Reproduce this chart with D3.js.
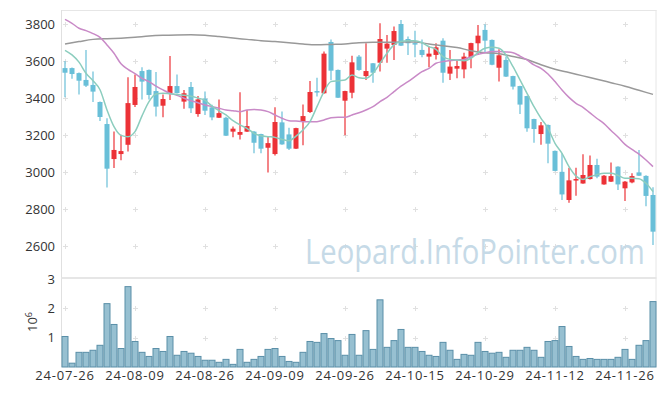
<!DOCTYPE html>
<html><head><meta charset="utf-8">
<script src="https://cdn.jsdelivr.net/npm/d3@7"></script>
<style>body{margin:0;background:#fff}svg{display:block}text{font-family:"Open Sans",sans-serif}</style>
</head><body><svg id="c" width="665" height="396"></svg>
<script>
const dates=["24-07-26","24-07-29","24-07-30","24-07-31","24-08-01","24-08-02","24-08-05","24-08-06","24-08-07","24-08-08",
"24-08-09","24-08-12","24-08-13","24-08-14","24-08-16","24-08-19","24-08-20","24-08-21","24-08-22","24-08-23",
"24-08-26","24-08-27","24-08-28","24-08-29","24-08-30","24-09-02","24-09-03","24-09-04","24-09-05","24-09-06",
"24-09-09","24-09-10","24-09-11","24-09-12","24-09-13","24-09-19","24-09-20","24-09-23","24-09-24","24-09-25",
"24-09-26","24-09-27","24-09-30","24-10-02","24-10-04","24-10-07","24-10-08","24-10-10","24-10-11","24-10-14",
"24-10-15","24-10-16","24-10-17","24-10-18","24-10-21","24-10-22","24-10-23","24-10-24","24-10-25","24-10-28",
"24-10-29","24-10-30","24-10-31","24-11-01","24-11-04","24-11-05","24-11-06","24-11-07","24-11-08","24-11-11",
"24-11-12","24-11-13","24-11-14","24-11-15","24-11-18","24-11-19","24-11-20","24-11-21","24-11-22","24-11-25",
"24-11-26","24-11-27","24-11-28","24-11-29","24-12-02"];
const open=[3562,3562,3535,3498,3471,3379,3260,3071,3098,3148,
3363,3546,3552,3438,3359,3427,3465,3381,3460,3314,
3397,3350,3294,3294,3219,3202,3219,3219,3206,3132,
3098,3269,3204,3127,3274,3325,3438,3426,3703,3552,
3386,3429,3624,3519,3588,3591,3667,3687,3800,3719,
3697,3660,3624,3633,3710,3532,3559,3555,3622,3696,
3768,3714,3564,3606,3519,3465,3411,3287,3206,3255,
3115,3002,2850,2955,2939,2963,3039,2934,2949,3030,
2913,2945,2999,2980,2877];
const high=[3600,3565,3538,3660,3544,3381,3291,3220,3202,3512,
3528,3566,3555,3541,3420,3627,3528,3444,3487,3411,
3435,3364,3393,3300,3247,3431,3336,3222,3208,3195,
3350,3327,3240,3240,3366,3492,3510,3652,3717,3555,
3440,3629,3633,3696,3590,3804,3741,3786,3822,3732,
3764,3717,3678,3696,3723,3660,3606,3645,3699,3795,
3798,3716,3664,3624,3521,3467,3413,3289,3271,3257,
3117,3102,3024,3024,3097,3090,3072,2985,3053,3032,
2952,2994,3120,2983,2919];
const low=[3405,3505,3420,3460,3379,3276,2918,3022,3064,3112,
3352,3393,3393,3301,3296,3390,3425,3343,3319,3300,
3309,3280,3292,3195,3188,3177,3217,3102,3102,2999,
3090,3148,3120,3125,3145,3320,3408,3424,3496,3400,
3199,3399,3548,3498,3483,3543,3591,3606,3681,3633,
3620,3620,3566,3609,3483,3498,3507,3507,3561,3633,
3645,3578,3490,3514,3447,3314,3219,3159,3148,3048,
3005,2850,2835,2873,2937,2961,2967,2932,2947,2904,
2844,2940,2979,2816,2607];
const close=[3537,3530,3494,3467,3435,3298,3019,3120,3114,3373,
3460,3489,3417,3354,3395,3465,3427,3426,3345,3393,
3332,3296,3319,3197,3235,3217,3249,3159,3127,3157,
3271,3150,3127,3238,3303,3433,3431,3640,3548,3402,
3438,3593,3552,3546,3537,3719,3694,3762,3683,3696,
3694,3633,3640,3674,3537,3570,3573,3624,3697,3737,
3710,3580,3631,3516,3462,3365,3237,3233,3253,3154,
3007,2880,2956,2963,2985,3039,2976,2981,2979,2934,
2949,2979,2981,2872,2679];
// volume in units of 10^6
const volume=[1.04,0.13,0.50,0.50,0.57,0.74,2.16,1.45,0.63,2.74,
0.87,0.50,0.36,0.63,0.53,1.04,0.40,0.53,0.47,0.36,
0.23,0.23,0.16,0.26,0.09,0.60,0.16,0.26,0.36,0.60,
0.63,0.36,0.19,0.16,0.50,0.87,0.84,1.14,0.97,0.90,
0.40,1.11,0.40,1.24,0.60,2.29,0.67,0.90,1.28,0.67,
0.67,0.53,0.40,0.36,0.84,0.57,0.26,0.43,0.40,0.84,
0.53,0.47,0.50,0.33,0.57,0.57,0.67,0.57,0.33,0.87,
0.90,1.38,0.70,0.36,0.26,0.29,0.26,0.26,0.26,0.33,
0.60,0.26,0.74,0.90,2.23];
const maShort=[3658,3633,3594,3534,3494,3445,3336,3246,3199,3192,
3219,3304,3381,3422,3426,3423,3420,3415,3410,3400,
3388,3357,3332,3309,3278,3255,3237,3210,3197,3192,
3188,3177,3170,3195,3228,3273,3354,3435,3489,3494,
3498,3525,3510,3507,3534,3588,3642,3687,3705,3710,
3710,3699,3678,3663,3624,3609,3606,3602,3615,3645,
3669,3674,3669,3633,3570,3498,3426,3354,3291,3237,
3156,3102,3030,2979,2961,2976,2987,2994,2994,2983,
2967,2967,2965,2940,2895];
const maMid=[3825,3804,3777,3764,3748,3728,3687,3642,3585,3555,
3532,3507,3489,3465,3444,3426,3415,3399,3386,3375,
3363,3354,3345,3336,3332,3327,3336,3339,3336,3327,
3309,3291,3278,3276,3273,3273,3273,3282,3294,3296,
3296,3309,3321,3336,3354,3381,3404,3435,3465,3489,
3516,3543,3561,3588,3597,3602,3606,3609,3624,3636,
3645,3651,3651,3649,3645,3627,3606,3579,3561,3530,
3489,3444,3404,3372,3350,3320,3290,3262,3225,3190,
3150,3123,3098,3066,3030];
const maLongIdx=[0,2,4,6,8,10,12,14,16,18,20,22,24,26,28,30,32,34,36,38,40,42,44,46,48,50,52,54,56,58,60,62,64,66,68,70,72,74,76,78,80,82,84];
const maLong=[3692,3705,3717,3721,3723,3728,3735,3739,3741,3742,3739,3732,3724,3717,3710,3705,3699,3692,3688,3690,3692,3699,3701,3701,3703,3703,3692,3683,3673,3656,3645,3640,3625,3608,3580,3556,3538,3520,3502,3483,3464,3442,3420];
const priceTicks=[2600,2800,3000,3200,3400,3600,3800];
const volTicks=[1,2,3];
const dateTickIdx=[0,10,20,30,40,50,60,70,80];

const svg=d3.select("#c");
const L=61.5,R=656.5,T=10,MB=278,VB=367;
const x=d3.scaleBand().domain(d3.range(dates.length)).range([L,R]).padding(0);
const cx=i=>x(i)+x.bandwidth()/2;
const y=d3.scaleLinear().domain([2600,3800]).range([246.3,24]);
const yv=d3.scaleLinear().domain([0,3]).range([VB,279]);

const defs=svg.append("defs");
defs.append("clipPath").attr("id","mclip").append("rect").attr("x",L).attr("y",T).attr("width",R-L).attr("height",MB-T);

// grid plus markers
const grid=svg.append("g").attr("stroke","#e0e0e0").attr("stroke-width",1);
function plus(px,py){grid.append("path").attr("d",`M${px-2.5},${py}H${px+2.5}M${px},${py-2.5}V${py+2.5}`);}
dateTickIdx.forEach(i=>{priceTicks.forEach(t=>plus(Math.round(cx(i))+0.5,Math.round(y(t))+0.5));
  [1,2].forEach(t=>plus(Math.round(cx(i))+0.5,Math.round(yv(t))+0.5));});

// frame
svg.append("line").attr("x1",L).attr("x2",R).attr("y1",T+0.5).attr("y2",T+0.5).attr("stroke","#e6e6e6");
svg.append("line").attr("x1",L).attr("x2",L).attr("y1",T).attr("y2",VB).attr("stroke","#e0e0e0");
svg.append("line").attr("x1",R-0.5).attr("x2",R-0.5).attr("y1",T).attr("y2",VB).attr("stroke","#e6e6e6");
svg.append("line").attr("x1",L).attr("x2",R).attr("y1",MB).attr("y2",MB).attr("stroke","#e6e6e6").attr("stroke-width",2);

// watermark (horizontally scaled to fit its span)
const wm=svg.append("g");
const wmt=wm.append("text").attr("x",0).attr("y",0).attr("font-size",34).attr("fill","#c6dae7").text("Leopard.InfoPointer.com");
const sx=340/wmt.node().getComputedTextLength();
wm.attr("transform",`translate(305,264) scale(${sx},1)`);

// candles
const main=svg.append("g").attr("clip-path","url(#mclip)");
const up="#ec3237",down="#69bfd8";
const idx=d3.range(dates.length);
const cg=main.selectAll("g.c").data(idx).join("g")
  .attr("fill",i=>close[i]>=open[i]?up:down).attr("stroke",i=>close[i]>=open[i]?up:down);
cg.append("line").attr("x1",i=>cx(i)).attr("x2",i=>cx(i)).attr("y1",i=>y(high[i])).attr("y2",i=>y(low[i])).attr("stroke-width",1.2);
cg.append("rect").attr("stroke","none").attr("x",i=>cx(i)-2.5).attr("width",5)
  .attr("y",i=>y(Math.max(open[i],close[i])))
  .attr("height",i=>Math.max(1.5,Math.abs(y(open[i])-y(close[i]))));

// MA lines
const ln=d3.line().curve(d3.curveMonotoneX);
main.append("path").attr("d",ln(maLong.map((v,k)=>[cx(maLongIdx[k]),y(v)]))).attr("fill","none").attr("stroke","#999").attr("stroke-width",1.5);
main.append("path").attr("d",ln(maMid.map((v,i)=>[cx(i),y(v)]))).attr("fill","none").attr("stroke","#c98ac7").attr("stroke-width",1.5);
main.append("path").attr("d",ln(maShort.map((v,i)=>[cx(i),y(v)]))).attr("fill","none").attr("stroke","#8ccdbe").attr("stroke-width",1.5);

// volume
svg.append("g").selectAll("rect").data(idx).join("rect")
  .attr("x",i=>x(i)+0.5).attr("width",x.bandwidth()-1)
  .attr("y",i=>yv(volume[i])).attr("height",i=>VB-yv(volume[i]))
  .attr("fill","#97c0d1").attr("stroke","#5a8fa8").attr("stroke-width",1);

// axes
const ya=svg.append("g").attr("transform",`translate(${L},0)`).call(d3.axisLeft(y).tickValues(priceTicks).tickSize(0).tickPadding(6.5).tickFormat(d3.format("d")));
const yva=svg.append("g").attr("transform",`translate(${L},0)`).call(d3.axisLeft(yv).tickValues(volTicks).tickSize(0).tickPadding(6.5).tickFormat(d3.format("d")));
const xa=svg.append("g").attr("transform",`translate(0,${VB})`).call(d3.axisBottom(x).tickValues(dateTickIdx).tickSize(0).tickPadding(4).tickFormat(i=>dates[i]));
[ya,yva,xa].forEach(g=>{g.select(".domain").remove();g.selectAll("text").attr("font-family","Open Sans").attr("font-size",13).attr("fill","#333");});
xa.selectAll("text").attr("letter-spacing",0.8);

// 10^6 label
const ul=svg.append("text").attr("transform","translate(37,322) rotate(-90)").attr("text-anchor","middle").attr("font-size",13).attr("fill","#333");
ul.append("tspan").text("10");
ul.append("tspan").attr("dy",-5).attr("font-size",9).text("6");
</script></body></html>
